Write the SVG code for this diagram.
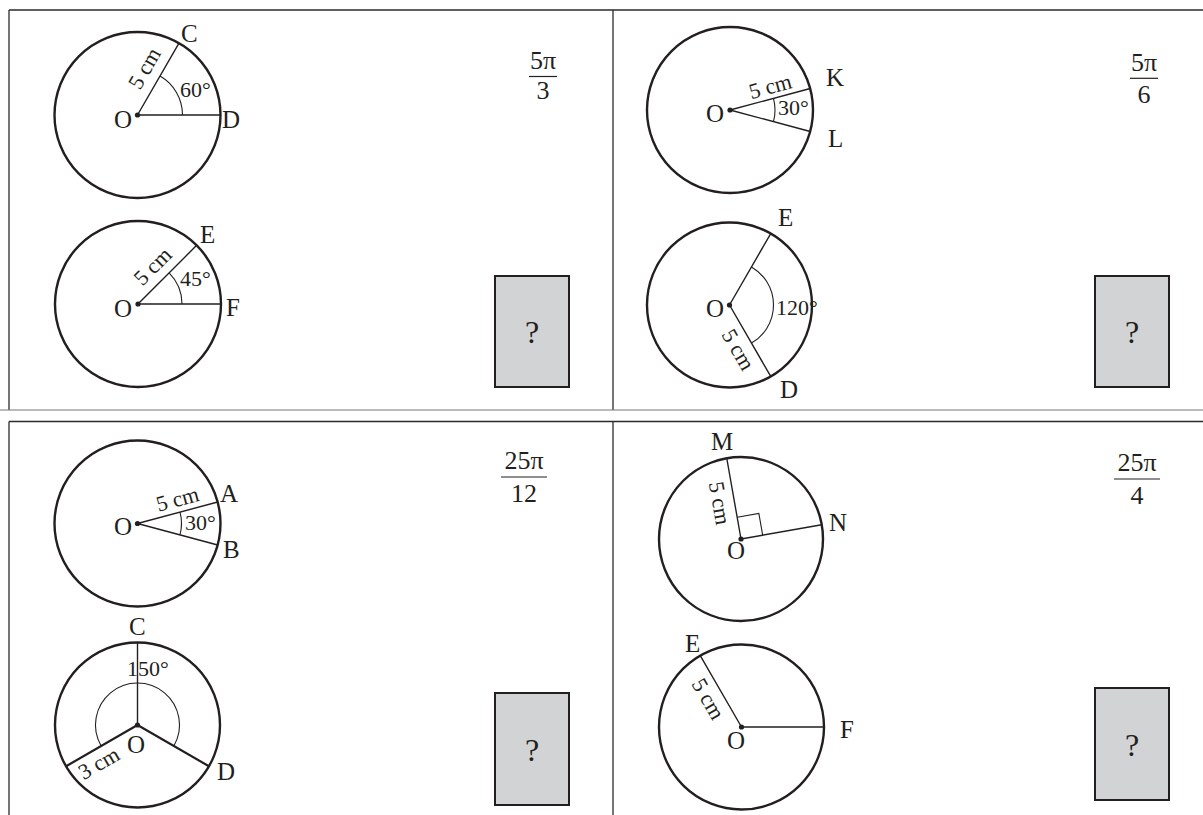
<svg xmlns="http://www.w3.org/2000/svg" width="1203" height="815" viewBox="0 0 1203 815">
<style>
.frame{stroke:#2b2b2b;stroke-width:1.3;fill:none}
.circ{stroke:#231f20;stroke-width:2.4;fill:none}
.rad{stroke:#231f20;stroke-width:1.4;fill:none}
.radb{stroke:#231f20;stroke-width:2.2;fill:none}
.arc{stroke:#231f20;stroke-width:1.1;fill:none}
.dot{fill:#231f20}
text{font-family:"Liberation Serif","Times New Roman",serif;fill:#231f20;font-size:25px}
.ang{font-size:22px}
.cm{font-size:22px;text-anchor:middle}
.fr{font-size:26px;text-anchor:middle}
.q{font-size:32px;text-anchor:middle}
.box{fill:#d1d3d4;stroke:#231f20;stroke-width:2}
</style>
<g id="frames">
<path class="frame" d="M9,10 H1203 M9,10 V410 M613,10 V410"/>
<path d="M0,410 H1203" stroke="#777" stroke-width="1.2"/>
<path class="frame" d="M9,421.5 H1203 M9,421.5 V815 M613,421.5 V815"/>
</g>
<g id="connectors"></g>
<g id="fig-cd">
<circle class="circ" cx="137.5" cy="115" r="83"/>
<path class="rad" d="M137.5,115 H220.5 M137.5,115 L179,43.1"/>
<path class="arc" d="M182.5,115 A45,45 0 0 0 160,76.03"/>
<circle class="dot" cx="137.5" cy="115" r="2.6"/>
<text x="181" y="42">C</text>
<text x="114" y="128">O</text>
<text x="222" y="128">D</text>
<text class="ang" x="180" y="97">60°</text>
<text class="cm" transform="translate(137.5,115) rotate(-60)" x="44" y="-10">5 cm</text>
</g>
<g id="fig-ef">
<circle class="circ" cx="138" cy="304" r="83"/>
<path class="rad" d="M138,304 H221 M138,304 L196.7,245.3"/>
<path class="arc" d="M182,304 A44,44 0 0 0 169.1,272.9"/>
<circle class="dot" cx="138" cy="304" r="2.6"/>
<text x="200" y="243">E</text>
<text x="114" y="317">O</text>
<text x="226" y="316">F</text>
<text class="ang" x="180" y="286">45°</text>
<text class="cm" transform="translate(138,304) rotate(-45)" x="37" y="-9">5 cm</text>
</g>
<g id="frac-tl">
<text class="fr" x="543" y="69">5π</text>
<path d="M529,76.5 H557" stroke="#231f20" stroke-width="1.2"/>
<text class="fr" x="543" y="99">3</text>
</g>
<g id="box-tl">
<rect class="box" x="495" y="276" width="74" height="111"/>
<text class="q" x="532" y="343">?</text>
</g>
<g id="fig-kl">
<circle class="circ" cx="730" cy="110" r="83"/>
<path class="rad" d="M730,110 L810.2,88.5 M730,110 L810.2,131.5"/>
<path class="arc" d="M773.47,121.65 A45,45 0 0 0 773.47,98.35"/>
<circle class="dot" cx="730" cy="110" r="2.6"/>
<text x="826" y="86">K</text>
<text x="828" y="147">L</text>
<text x="706" y="122">O</text>
<text class="ang" x="778" y="115">30°</text>
<text class="cm" transform="translate(730,110) rotate(-15)" x="45" y="-5">5 cm</text>
</g>
<g id="fig-ed">
<circle class="circ" cx="729.5" cy="305" r="82.5"/>
<path class="rad" d="M729.5,305 L770.75,233.55 M729.5,305 L770.75,376.45"/>
<path class="arc" d="M751.5,266.9 A44,44 0 0 1 751.5,343.1"/>
<circle class="dot" cx="729.5" cy="305" r="2.6"/>
<text x="778" y="226">E</text>
<text x="780" y="398">D</text>
<text x="706" y="317">O</text>
<text class="ang" x="776" y="315">120°</text>
<text class="cm" transform="translate(729.5,305) rotate(60)" x="43" y="22">5 cm</text>
</g>
<g id="frac-tr">
<text class="fr" x="1144" y="71">5π</text>
<path d="M1130,78.3 H1158" stroke="#231f20" stroke-width="1.2"/>
<text class="fr" x="1144" y="103">6</text>
</g>
<g id="box-tr">
<rect class="box" x="1095" y="276" width="74" height="111"/>
<text class="q" x="1132" y="343">?</text>
</g>
<g id="fig-ab">
<circle class="circ" cx="137.5" cy="523.5" r="83"/>
<path class="rad" d="M137.5,523.5 L217.67,502.02 M137.5,523.5 L217.67,544.98"/>
<path class="arc" d="M180,534.89 A44,44 0 0 0 180,512.11"/>
<circle class="dot" cx="137.5" cy="523.5" r="2.6"/>
<text x="220" y="502">A</text>
<text x="223" y="558">B</text>
<text x="114" y="535">O</text>
<text class="ang" x="185" y="530">30°</text>
<text class="cm" transform="translate(137.5,523.5) rotate(-15)" x="45" y="-6">5 cm</text>
</g>
<g id="fig-cd2">
<circle class="circ" cx="137.5" cy="725" r="82.5"/>
<path class="rad" d="M137.5,725 V642.5"/>
<path class="radb" d="M137.5,725 L66.05,766.25 M137.5,725 L208.95,766.25"/>
<path class="arc" d="M101.13,746 A42,42 0 1 1 173.87,746"/>
<circle class="dot" cx="137.5" cy="725" r="2.6"/>
<text x="129" y="635">C</text>
<text x="127" y="753">O</text>
<text x="217" y="780">D</text>
<text class="ang" x="127" y="676">150°</text>
<text class="cm" transform="translate(137.5,725) rotate(-30)" x="-52.5" y="21">3 cm</text>
</g>
<g id="frac-bl">
<text class="fr" x="524" y="469">25π</text>
<path d="M501,477 H547" stroke="#231f20" stroke-width="1.2"/>
<text class="fr" x="524" y="502">12</text>
</g>
<g id="box-bl">
<rect class="box" x="495" y="693" width="74" height="112"/>
<text class="q" x="532" y="761">?</text>
</g>
<g id="fig-mn">
<circle class="circ" cx="741" cy="539" r="82"/>
<path class="rad" d="M741,539 L726.76,458.25 M741,539 L821.75,524.76"/>
<path class="arc" d="M737.18,517.33 L758.85,513.51 L762.67,535.18"/>
<circle class="dot" cx="741" cy="539" r="2.6"/>
<text x="711" y="450">M</text>
<text x="829" y="531">N</text>
<text x="727" y="559">O</text>
<text class="cm" transform="translate(741,539) rotate(80)" x="-39" y="22">5 cm</text>
</g>
<g id="fig-ef2">
<circle class="circ" cx="741.5" cy="727" r="82.5"/>
<path class="rad" d="M741.5,727 H824 M741.5,727 L700.25,655.55"/>
<circle class="dot" cx="741.5" cy="727" r="2.6"/>
<text x="685" y="652">E</text>
<text x="840" y="738">F</text>
<text x="727" y="749">O</text>
<text class="cm" transform="translate(741.5,727) rotate(60)" x="-41" y="22">5 cm</text>
</g>
<g id="frac-br">
<text class="fr" x="1137" y="471">25π</text>
<path d="M1114,479 H1160" stroke="#231f20" stroke-width="1.2"/>
<text class="fr" x="1137" y="504">4</text>
</g>
<g id="box-br">
<rect class="box" x="1095" y="688" width="74" height="112"/>
<text class="q" x="1132" y="756">?</text>
</g>
</svg>
